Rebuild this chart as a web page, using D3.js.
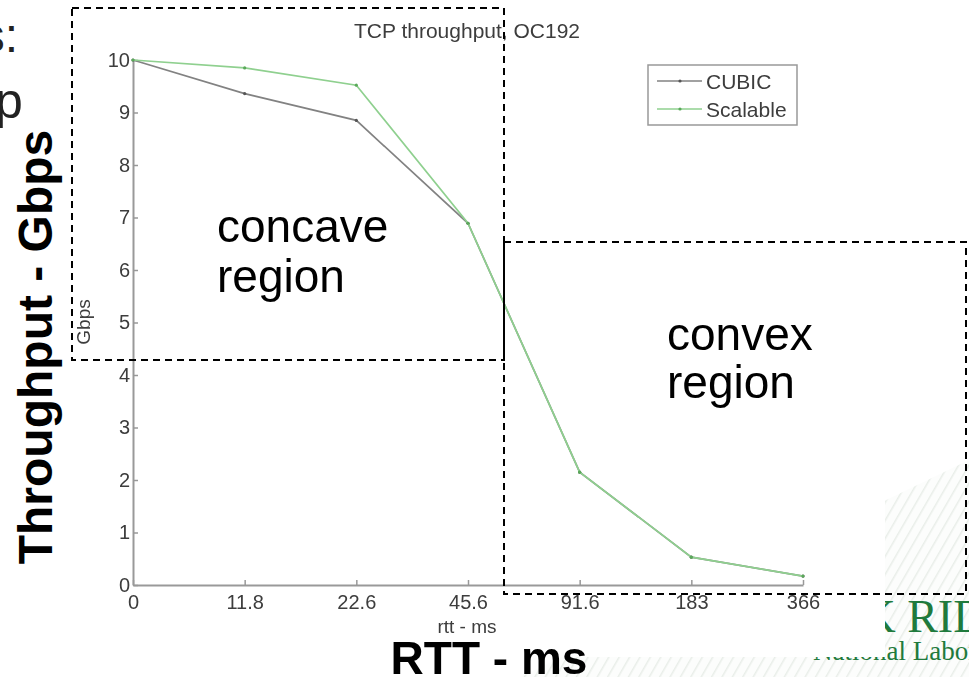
<!DOCTYPE html>
<html>
<head>
<meta charset="utf-8">
<script src="https://cdn.jsdelivr.net/npm/d3@7/dist/d3.min.js"></script>
<style>
  html, body { margin: 0; padding: 0; background: #fff; }
  svg { display: block; }
  text { font-family: "Liberation Sans", Arial, Helvetica, sans-serif; }
</style>
</head>
<body>
<svg id="chart" width="969" height="677"></svg>
<script>
// Round-trip time categories (ms) along the x axis
const rttLabels = ["0", "11.8", "22.6", "45.6", "91.6", "183", "366"];
// Measured TCP throughput (Gbps) per congestion-control variant
const cubicGbps = [10.0, 9.36, 8.85, 6.89, 2.15, 0.53, 0.17];
const scalableGbps = [10.0, 9.85, 9.52, 6.89, 2.15, 0.53, 0.17];
const seriesNames = ["CUBIC", "Scalable"];
const seriesColors = ["#828282", "#8fd08f"];
const yTickValues = [0, 1, 2, 3, 4, 5, 6, 7, 8, 9, 10];

const svg = d3.select("#chart");
const serif = "'Liberation Serif', 'Times New Roman', serif";

// ---- slide background: faint diagonal stripes and the lab logo ----
const defs = svg.append("defs");
const pat = defs.append("pattern")
  .attr("id", "stripes").attr("patternUnits", "userSpaceOnUse")
  .attr("width", 9).attr("height", 9)
  .attr("patternTransform", "rotate(30)");
pat.append("rect").attr("width", 9).attr("height", 9).attr("fill", "#fcfdfc");
pat.append("line").attr("x1", 0).attr("y1", 0).attr("x2", 0).attr("y2", 9)
  .attr("stroke", "#e9eee9").attr("stroke-width", 3);

svg.append("polygon")
  .attr("points", "520,677 969,460 969,677")
  .attr("fill", "url(#stripes)");

const logo = svg.append("g").attr("fill", "#1f7a3c");
logo.append("text").attr("x", 796).attr("y", 632)
  .style("font-family", serif).attr("font-size", 46).text("OAK RIDGE");
logo.append("text").attr("x", 813).attr("y", 660)
  .style("font-family", serif).attr("font-size", 27).text("National Laboratory");

// ---- white figure panel ----
svg.append("rect").attr("x", 60).attr("y", 0).attr("width", 825).attr("height", 657)
  .attr("fill", "#fff");

// soft look of the embedded plot
const blur = defs.append("filter").attr("id", "soft")
  .attr("x", "-5%").attr("y", "-5%").attr("width", "110%").attr("height", "110%");
blur.append("feGaussianBlur").attr("stdDeviation", 0.55);

const plot = svg.append("g").attr("filter", "url(#soft)");

const x = d3.scalePoint().domain(rttLabels).range([133, 803]);
const y = d3.scaleLinear().domain([0, 10]).range([585, 60]);

const axisColor = "#999";
const labelColor = "#3c3c3c";

const xAxis = plot.append("g").attr("transform", "translate(0,585)")
  .call(d3.axisBottom(x).tickSizeInner(-5).tickSizeOuter(0).tickPadding(10));
const yAxis = plot.append("g").attr("transform", "translate(133,0)")
  .call(d3.axisLeft(y).tickValues(yTickValues).tickSizeInner(-5).tickSizeOuter(0).tickPadding(3));

[xAxis, yAxis].forEach(a => {
  a.select(".domain").attr("stroke", axisColor).attr("stroke-width", 2);
  a.selectAll(".tick line").attr("stroke", axisColor).attr("stroke-width", 1.5);
  a.selectAll(".tick text").attr("fill", labelColor).attr("font-size", 20)
    .style("font-family", "'Liberation Sans', Arial, sans-serif");
});

// title and axis captions of the plot
plot.append("text").attr("x", 467).attr("y", 38).attr("text-anchor", "middle")
  .attr("fill", labelColor).attr("font-size", 21).text("TCP throughput, OC192");
plot.append("text").attr("x", 467).attr("y", 633).attr("text-anchor", "middle")
  .attr("fill", labelColor).attr("font-size", 19).text("rtt - ms");
plot.append("text").attr("transform", "translate(90,322) rotate(-90)")
  .attr("text-anchor", "middle").attr("fill", labelColor).attr("font-size", 19).text("Gbps");

// data lines with small point markers
const line = d3.line().x((d, i) => x(rttLabels[i])).y(d => y(d));
[cubicGbps, scalableGbps].forEach((vals, k) => {
  plot.append("path").datum(vals).attr("d", line)
    .attr("fill", "none").attr("stroke", seriesColors[k]).attr("stroke-width", 1.7);
  plot.append("g").selectAll("circle").data(vals).join("circle")
    .attr("cx", (d, i) => x(rttLabels[i])).attr("cy", d => y(d)).attr("r", 1.6)
    .attr("fill", k === 0 ? "#555" : "#5aa95a");
});

// legend
const lg = plot.append("g");
lg.append("rect").attr("x", 648).attr("y", 65).attr("width", 149).attr("height", 60)
  .attr("fill", "#fff").attr("stroke", "#999").attr("stroke-width", 1.5);
seriesNames.forEach((name, k) => {
  const ly = 81 + k * 28;
  lg.append("line").attr("x1", 657).attr("x2", 702).attr("y1", ly).attr("y2", ly)
    .attr("stroke", seriesColors[k]).attr("stroke-width", 1.7);
  lg.append("circle").attr("cx", 680).attr("cy", ly).attr("r", 1.6)
    .attr("fill", k === 0 ? "#555" : "#5aa95a");
  lg.append("text").attr("x", 706).attr("y", ly + 8).attr("fill", labelColor)
    .attr("font-size", 21).text(name);
});

// ---- slide annotations ----
const ann = svg.append("g");
ann.append("text").attr("x", 18).attr("y", 52).attr("font-size", 48)
  .attr("text-anchor", "end").attr("fill", "#222").text("s:");
ann.append("text").attr("x", -5).attr("y", 118).attr("font-size", 50)
  .attr("fill", "#222").text("p");

ann.append("text").attr("transform", "translate(52,347) rotate(-90)")
  .attr("text-anchor", "middle").attr("font-size", 48).attr("font-weight", "bold")
  .attr("fill", "#000").text("Throughput - Gbps");
ann.append("text").attr("x", 489).attr("y", 674).attr("text-anchor", "middle")
  .attr("font-size", 46).attr("font-weight", "bold").attr("fill", "#000").text("RTT - ms");

ann.append("rect").attr("x", 72).attr("y", 8).attr("width", 432).attr("height", 352)
  .attr("fill", "none").attr("stroke", "#000").attr("stroke-width", 2)
  .attr("stroke-dasharray", "7,5");
ann.append("rect").attr("x", 504).attr("y", 242).attr("width", 462).attr("height", 352)
  .attr("fill", "none").attr("stroke", "#000").attr("stroke-width", 2)
  .attr("stroke-dasharray", "7,5");

const regionText = [
  { x: 217, y: 242, lines: ["concave", "region"], gap: 50 },
  { x: 667, y: 350, lines: ["convex", "region"], gap: 48 }
];
regionText.forEach(r => {
  r.lines.forEach((s, i) => {
    ann.append("text").attr("x", r.x).attr("y", r.y + i * r.gap)
      .attr("font-size", 46).attr("fill", "#000").text(s);
  });
});
</script>
</body>
</html>
